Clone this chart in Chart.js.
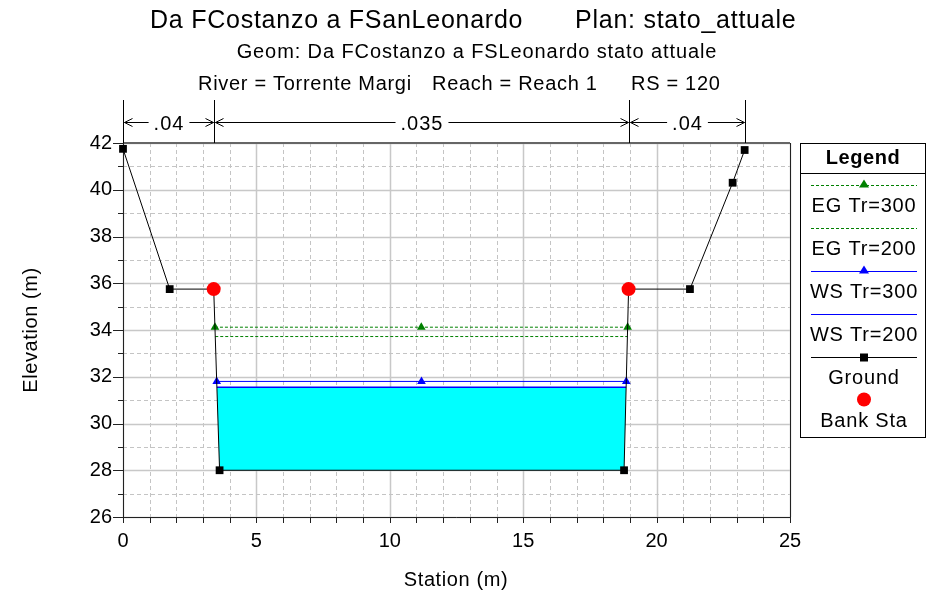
<!DOCTYPE html>
<html>
<head>
<meta charset="utf-8">
<script src="https://cdn.jsdelivr.net/npm/chart.js@4/dist/chart.umd.min.js"></script>
<style>
  html, body { margin: 0; padding: 0; background: #fff; }
  canvas { display: block; }
</style>
</head>
<body>
<canvas id="xsec" width="934" height="596"></canvas>
<script>
// ground profile (station, elevation)
const stations = [0, 1.75, 3.4, 3.62, 18.78, 18.95, 21.25, 22.85, 23.3];
const groundElev = [41.75, 35.75, 35.75, 28, 28, 35.75, 35.75, 40.3, 41.7];
const bankStations = [3.4, 18.95];
const bankElev = [35.75, 35.75];

// water levels
const egTr300 = 34.12;
const egTr200 = 33.72;
const wsTr300 = 31.8;
const wsTr200 = 31.55;

// manning n
const manningStations = [0, 3.4, 18.95, 23.3];
const manningN = [".04", ".035", ".04"];

const FONT = "'Liberation Sans', Arial, sans-serif";

// where a level meets the channel walls
function crossings(level) {
    let left = null, right = null;
    for (let i = 0; i < stations.length - 1; i++) {
        const y0 = groundElev[i], y1 = groundElev[i + 1];
        const x0 = stations[i], x1 = stations[i + 1];
        if (left === null && y0 >= level && y1 < level) {
            left = x0 + (x1 - x0) * (y0 - level) / (y0 - y1);
        }
        if (y0 < level && y1 >= level) {
            right = x0 + (x1 - x0) * (level - y0) / (y1 - y0);
        }
    }
    return [left, right];
}

function levelLine(level) {
    const [l, r] = crossings(level);
    return [{x: l, y: level}, {x: (l + r) / 2, y: level}, {x: r, y: level}];
}

function waterPolygon(level) {
    const [l, r] = crossings(level);
    const pts = [{x: l, y: level}];
    stations.forEach((s, i) => {
        if (s > l && s < r && groundElev[i] < level) pts.push({x: s, y: groundElev[i]});
    });
    pts.push({x: r, y: level});
    return pts;
}

const ground = stations.map((s, i) => ({x: s, y: groundElev[i]}));
const banks = bankStations.map((s, i) => ({x: s, y: bankElev[i]}));

const legendItems = [
    {label: "EG Tr=300", color: "#008000", dash: [3, 2], marker: "triangle"},
    {label: "EG Tr=200", color: "#008000", dash: [3, 2], marker: null},
    {label: "WS Tr=300", color: "#0000ff", dash: [], marker: "triangle"},
    {label: "WS Tr=200", color: "#0000ff", dash: [], marker: null},
    {label: "Ground", color: "#000000", dash: [], marker: "rect"},
    {label: "Bank Sta", color: "#ff0000", dash: null, marker: "circle"}
];

const decorPlugin = {
    id: "decor",
    beforeDatasetsDraw(chart) {
        const ctx = chart.ctx;
        const xs = chart.scales.x, ys = chart.scales.y;
        const a = chart.chartArea;
        ctx.save();
        // grid
        for (let v = 0; v <= 25; v++) {
            const px = Math.round(xs.getPixelForValue(v)) + 0.5;
            ctx.beginPath();
            if (v % 5 === 0) { ctx.setLineDash([]); ctx.strokeStyle = "#c8c8c8"; ctx.lineWidth = 1.5; }
            else { ctx.setLineDash([4, 3]); ctx.strokeStyle = "#c4c4c4"; ctx.lineWidth = 1; }
            ctx.moveTo(px, a.top); ctx.lineTo(px, a.bottom); ctx.stroke();
        }
        for (let v = 26; v <= 42; v++) {
            const py = Math.round(ys.getPixelForValue(v)) + 0.5;
            ctx.beginPath();
            if (v % 2 === 0) { ctx.setLineDash([]); ctx.strokeStyle = "#c8c8c8"; ctx.lineWidth = 1.5; }
            else { ctx.setLineDash([4, 3]); ctx.strokeStyle = "#c4c4c4"; ctx.lineWidth = 1; }
            ctx.moveTo(a.left, py); ctx.lineTo(a.right, py); ctx.stroke();
        }
        ctx.setLineDash([]);
        // frame
        ctx.strokeStyle = "#666"; ctx.lineWidth = 2;
        ctx.beginPath(); ctx.moveTo(a.left, a.top); ctx.lineTo(a.right, a.top); ctx.stroke();
        ctx.strokeStyle = "#222"; ctx.lineWidth = 1;
        ctx.beginPath();
        ctx.moveTo(a.right + 0.5, a.top); ctx.lineTo(a.right + 0.5, a.bottom);
        ctx.moveTo(a.left + 0.5, a.top); ctx.lineTo(a.left + 0.5, a.bottom + 0.5);
        ctx.lineTo(a.right, a.bottom + 0.5);
        ctx.stroke();
        // ticks
        ctx.beginPath();
        for (let v = 26; v <= 42; v++) {
            const py = Math.round(ys.getPixelForValue(v)) + 0.5;
            ctx.moveTo(a.left - (v % 2 === 0 ? 10 : 5), py); ctx.lineTo(a.left, py);
        }
        for (let v = 0; v <= 25; v++) {
            const px = Math.round(xs.getPixelForValue(v)) + 0.5;
            ctx.moveTo(px, a.bottom); ctx.lineTo(px, a.bottom + 6);
        }
        ctx.stroke();
        ctx.restore();
    },
    afterDraw(chart) {
        const ctx = chart.ctx;
        const xs = chart.scales.x;
        const a = chart.chartArea;
        ctx.save();
        ctx.fillStyle = "#000";
        ctx.textBaseline = "middle";

        // titles
        ctx.font = "25px " + FONT;
        ctx.letterSpacing = "0.75px";
        ctx.textAlign = "left";
        ctx.fillText("Da FCostanzo a FSanLeonardo", 150, 21);
        ctx.fillText("Plan: stato_attuale", 575, 21);
        ctx.font = "20px " + FONT;
        ctx.letterSpacing = "0.9px";
        ctx.textAlign = "center";
        ctx.fillText("Geom: Da FCostanzo a FSLeonardo stato attuale", 477, 52);
        ctx.letterSpacing = "0.7px";
        ctx.textAlign = "left";
        ctx.fillText("River = Torrente Margi", 198, 84);
        ctx.fillText("Reach = Reach 1", 432, 84);
        ctx.fillText("RS = 120", 631, 84);

        // axis titles
        ctx.font = "20px " + FONT;
        ctx.letterSpacing = "0.6px";
        ctx.textAlign = "center";
        ctx.fillText("Station (m)", 456, 580);
        ctx.save();
        ctx.translate(31, 330);
        ctx.rotate(-Math.PI / 2);
        ctx.fillText("Elevation (m)", 0, 0);
        ctx.restore();

        // manning n bars
        ctx.strokeStyle = "#000"; ctx.lineWidth = 1;
        const mx = manningStations.map(s => Math.round(xs.getPixelForValue(s)) + 0.5);
        ctx.beginPath();
        mx.forEach(px => { ctx.moveTo(px, 100); ctx.lineTo(px, a.top); });
        ctx.stroke();
        ctx.font = "20px " + FONT;
        ctx.letterSpacing = "1px";
        const ay = 122.5;
        manningN.forEach((n, i) => {
            const l = mx[i], r = mx[i + 1], cx = (l + r) / 2;
            const w = ctx.measureText(n).width;
            ctx.fillText(n, cx, 124);
            ctx.beginPath();
            ctx.moveTo(l + 1, ay); ctx.lineTo(cx - w / 2 - 5, ay);
            ctx.moveTo(cx + w / 2 + 5, ay); ctx.lineTo(r - 1, ay);
            ctx.moveTo(l + 9, ay - 4); ctx.lineTo(l + 1, ay); ctx.lineTo(l + 9, ay + 4);
            ctx.moveTo(r - 9, ay - 4); ctx.lineTo(r - 1, ay); ctx.lineTo(r - 9, ay + 4);
            ctx.stroke();
        });

        // legend box
        const bx = 800.5, by = 143.5, bw = 125, bh = 294;
        ctx.strokeStyle = "#000";
        ctx.strokeRect(bx, by, bw, bh);
        ctx.beginPath(); ctx.moveTo(bx, 173.5); ctx.lineTo(bx + bw, 173.5); ctx.stroke();
        ctx.font = "bold 20px " + FONT;
        ctx.letterSpacing = "0.6px";
        ctx.fillText("Legend", bx + bw / 2, 158);
        ctx.font = "20px " + FONT;
        ctx.letterSpacing = "0.8px";
        const lx0 = 811, lx1 = 917, lcx = (lx0 + lx1) / 2;
        legendItems.forEach((it, i) => {
            const ly = Math.round(185 + 43 * i) + 0.5;
            ctx.strokeStyle = it.color; ctx.fillStyle = it.color;
            if (it.dash) {
                ctx.setLineDash(it.dash);
                ctx.beginPath(); ctx.moveTo(lx0, ly); ctx.lineTo(lx1, ly); ctx.stroke();
                ctx.setLineDash([]);
            }
            if (it.marker === "triangle") {
                ctx.beginPath();
                ctx.moveTo(lcx, ly - 6); ctx.lineTo(lcx + 5, ly + 2); ctx.lineTo(lcx - 5, ly + 2);
                ctx.closePath(); ctx.fill();
            } else if (it.marker === "rect") {
                ctx.fillRect(lcx - 4, ly - 4, 8, 8);
            } else if (it.marker === "circle") {
                ctx.beginPath(); ctx.arc(lcx, ly - 1, 7, 0, Math.PI * 2); ctx.fill();
            }
            ctx.fillStyle = "#000";
            ctx.fillText(it.label, lcx, ly + 21);
        });
        ctx.restore();
    }
};

new Chart(document.getElementById("xsec"), {
    type: "scatter",
    data: {
        datasets: [
            {
                label: "Bank Sta", data: banks, showLine: false, clip: false,
                pointStyle: "circle", pointRadius: 7, pointBackgroundColor: "#ff0000", pointBorderWidth: 0
            },
            {
                label: "Ground", data: ground, showLine: true, clip: false, borderColor: "#000", borderWidth: 1,
                pointStyle: "rect", pointRadius: 5.5, pointBackgroundColor: "#000", pointBorderWidth: 0
            },
            {
                label: "EG Tr=300", data: levelLine(egTr300), showLine: true, borderColor: "#008000",
                borderWidth: 1, borderDash: [3, 2], pointStyle: "triangle", pointRadius: 5,
                pointBackgroundColor: "#008000", pointBorderWidth: 0
            },
            {
                label: "EG Tr=200", data: levelLine(egTr200), showLine: true, borderColor: "#008000",
                borderWidth: 1, borderDash: [3, 2], pointRadius: 0
            },
            {
                label: "WS Tr=300", data: levelLine(wsTr300), showLine: true, borderColor: "#0000ff",
                borderWidth: 1, pointStyle: "triangle", pointRadius: 5,
                pointBackgroundColor: "#0000ff", pointBorderWidth: 0
            },
            {
                label: "WS Tr=200", data: levelLine(wsTr200), showLine: true, borderColor: "#0000ff",
                borderWidth: 1.5, pointRadius: 0
            },
            {
                label: "water", data: waterPolygon(wsTr200), showLine: true, borderWidth: 0,
                borderColor: "rgba(0,0,0,0)", backgroundColor: "#00ffff", fill: "shape", pointRadius: 0
            }
        ]
    },
    options: {
        responsive: false,
        animation: false,
        devicePixelRatio: 1,
        layout: {padding: {top: 143, right: 144, left: 0, bottom: 0}},
        plugins: {legend: {display: false}, tooltip: {enabled: false}},
        scales: {
            x: {
                type: "linear", min: 0, max: 25,
                grid: {display: false, drawTicks: false}, border: {display: false},
                ticks: {stepSize: 5, padding: 12, maxRotation: 0, color: "#000", font: {family: FONT, size: 20}},
                afterFit: s => { s.height = 79; }
            },
            y: {
                type: "linear", min: 26, max: 42,
                grid: {display: false, drawTicks: false}, border: {display: false},
                ticks: {stepSize: 2, padding: 11, color: "#000", font: {family: FONT, size: 20}},
                afterFit: s => { s.width = 123; }
            }
        }
    },
    plugins: [decorPlugin]
});
</script>
</body>
</html>
